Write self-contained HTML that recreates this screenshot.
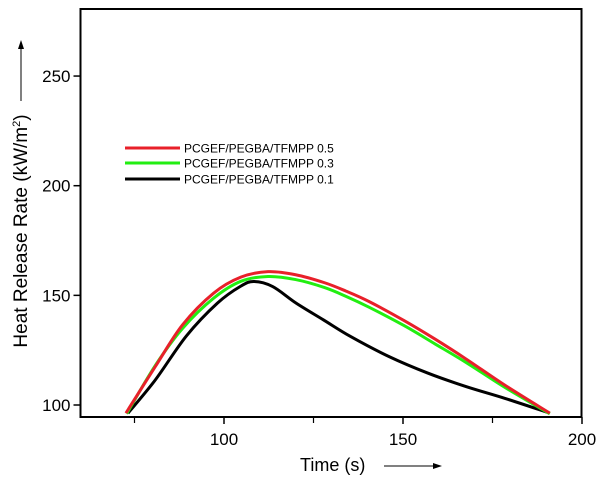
<!DOCTYPE html>
<html><head><meta charset="utf-8"><style>
html,body{margin:0;padding:0;background:#fff;}
svg{display:block;font-family:"Liberation Sans",Arial,sans-serif;}
</style></head><body>
<svg id="chart" width="606" height="481" viewBox="0 0 606 481" xmlns="http://www.w3.org/2000/svg">
<g id="axes"></g>
<g id="series"></g>
<g id="legend"></g>
</svg>
<script>
const xTicks = [100, 150, 200];
const xMinorTicks = [75, 125, 175];
const yTicks = [100, 150, 200, 250];
const seriesNames = ["PCGEF/PEGBA/TFMPP 0.5", "PCGEF/PEGBA/TFMPP 0.3", "PCGEF/PEGBA/TFMPP 0.1"];
const seriesColors = ["#e8202a", "#22ee11", "#000000"];
const redX = [72.6, 80.8, 88.4, 97.1, 104.7, 112.3, 120, 128, 134, 140.5, 150.3, 159, 167.6, 178.5, 191];
const redY = [96.3, 117.5, 136.5, 151, 158.3, 160.8, 159.4, 155.8, 152, 147.2, 138.5, 130, 121, 109, 96.3];
const greenX = [72.8, 80.8, 88.4, 97.1, 104.7, 112.3, 120, 128, 134, 140.5, 150.3, 159, 167.6, 178.5, 191];
const greenY = [96.0, 118, 134.9, 148.7, 156.4, 158.6, 157.2, 153.6, 149.6, 144.6, 136.2, 127.8, 119.4, 108, 96.0];
const blackX = [73.2, 80.8, 89.5, 98.2, 104.7, 108.4, 113.6, 120.2, 127.8, 135.4, 146.2, 157, 167.6, 178.5, 191];
const blackY = [96.3, 111.4, 131.5, 146.5, 154.2, 156.3, 154, 146.4, 138.8, 131.2, 122, 114.5, 108.4, 103, 96.3];

const NS = "http://www.w3.org/2000/svg";
const X0 = 80.5, X1 = 581.5, Y0 = 9, Y1 = 417;
function xs(v){ return 224 + (v - 100) * 3.58; }
function ys(v){ return 405 - (v - 100) * 2.193; }
function mk(tag, attrs, parent){ const e = document.createElementNS(NS, tag); for (const k in attrs) e.setAttribute(k, attrs[k]); parent.appendChild(e); return e; }
const axes = document.getElementById('axes');
const frame = mk('rect', {x:X0, y:Y0, width:X1-X0, height:Y1-Y0, fill:'none', stroke:'#000', 'stroke-width':2}, axes);


xTicks.forEach(v => {
  const t = mk('line', {x1:xs(v), x2:xs(v), y1:Y1, y2:Y1+7, stroke:'#000', 'stroke-width':1.5}, axes);
  
  
  const l = mk('text', {x:xs(v), y:Y1+28, 'font-size':17, 'text-anchor':'middle'}, axes);
  l.textContent = v;
  
  
});
xMinorTicks.forEach(v => {
  const t = mk('line', {x1:xs(v), x2:xs(v), y1:Y1, y2:Y1+6, stroke:'#000', 'stroke-width':1.2}, axes);
  
  
});
yTicks.forEach(v => {
  const t = mk('line', {x1:X0-7, x2:X0, y1:ys(v), y2:ys(v), stroke:'#000', 'stroke-width':1.5}, axes);
  
  
  const l = mk('text', {x:X0-10, y:ys(v)+6, 'font-size':17, 'text-anchor':'end'}, axes);
  l.textContent = v;
  
  
});
const xt = mk('text', {x:300, y:471, 'font-size':18}, axes);
xt.textContent = 'Time (s)';


const xa = mk('line', {x1:384, x2:436, y1:466, y2:466, stroke:'#000', 'stroke-width':1}, axes);


mk('polygon', {points:'442,466 433,463 433,469', fill:'#000'}, axes);
const yt = mk('text', {x:0, y:0, 'font-size':19, 'text-anchor':'middle', transform:'translate(27,231) rotate(-90)'}, axes);
yt.innerHTML = 'Heat Release Rate (kW/m<tspan dy="-7" font-size="11">2</tspan><tspan dy="7">)</tspan>';


const ya = mk('line', {x1:21, x2:21, y1:101, y2:47, stroke:'#000', 'stroke-width':1}, axes);


mk('polygon', {points:'21,40 18,49 24,49', fill:'#000'}, axes);

const series = document.getElementById('series');
const allX = [redX, greenX, blackX], allY = [redY, greenY, blackY];
const order = [2, 1, 0];
function smoothPath(px, py){
  const P = px.map((x,i)=>[xs(x), ys(py[i])]);
  let d = 'M' + P[0][0] + ',' + P[0][1];
  for (let i=0;i<P.length-1;i++){
    const p0 = P[i-1]||P[i], p1=P[i], p2=P[i+1], p3=P[i+2]||P[i+1];
    const c1x = p1[0]+(p2[0]-p0[0])/6, c1y = p1[1]+(p2[1]-p0[1])/6;
    const c2x = p2[0]-(p3[0]-p1[0])/6, c2y = p2[1]-(p3[1]-p1[1])/6;
    d += ' C'+c1x+','+c1y+' '+c2x+','+c2y+' '+p2[0]+','+p2[1];
  }
  return d;
}
order.forEach(i => {
  const p = mk('path', {d:smoothPath(allX[i], allY[i]), fill:'none', stroke:seriesColors[i], 'stroke-width':3, 'stroke-linejoin':'round'}, series);
  
  
});

const legend = document.getElementById('legend');
const legY = [148, 163, 179];
seriesNames.forEach((n, i) => {
  const l = mk('line', {x1:125, x2:180, y1:legY[i], y2:legY[i], stroke:seriesColors[i], 'stroke-width':3}, legend);
  
  
  const t = mk('text', {x:184, y:legY[i]+4.5, 'font-size':12}, legend);
  t.textContent = n;
  
  
});
</script>
</body></html>
